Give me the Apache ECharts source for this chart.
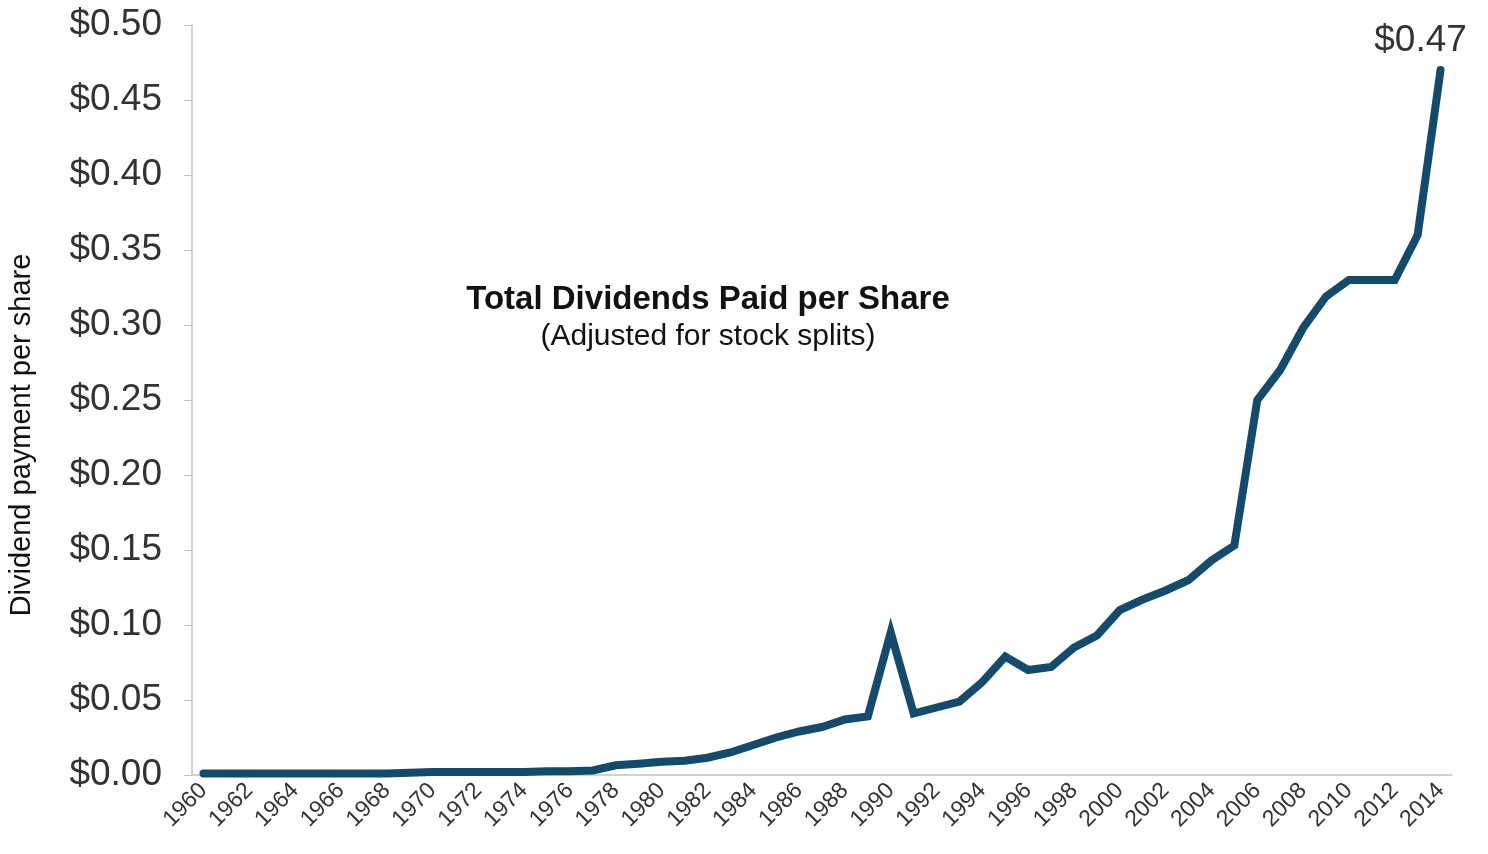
<!DOCTYPE html>
<html>
<head>
<meta charset="utf-8">
<script src="https://cdn.jsdelivr.net/npm/echarts@6/dist/echarts.min.js"></script>
<style>
  html, body { margin: 0; padding: 0; background: #fff; }
  #chart { width: 1488px; height: 854px; }
</style>
</head>
<body>
<div id="chart"></div>
<script>
const years = []
for (let y = 1960; y <= 2014; y++) years.push(String(y))

const dividends = [
  0.001, 0.001, 0.001, 0.001, 0.001, 0.001, 0.001, 0.001, 0.001, 0.0015,
  0.002, 0.002, 0.002, 0.002, 0.002, 0.0025, 0.0025, 0.003, 0.0065, 0.0075,
  0.0088, 0.0095, 0.0115, 0.015, 0.02, 0.025, 0.029, 0.032, 0.037, 0.039,
  0.095, 0.041, 0.045, 0.049, 0.062, 0.079, 0.07, 0.072, 0.085, 0.093,
  0.11, 0.117, 0.123, 0.13, 0.143, 0.153, 0.25, 0.27, 0.298, 0.319,
  0.33, 0.33, 0.33, 0.36, 0.47,
]

const lineColor = '#124B6C'
const font = '"Liberation Sans", Arial, sans-serif'

const chart = echarts.init(document.getElementById('chart'))

chart.setOption({
  animation: false,
  backgroundColor: '#fff',
  title: {
    text: 'Total Dividends Paid per Share',
    subtext: '(Adjusted for stock splits)',
    left: 703,
    top: 278,
    textAlign: 'center',
    itemGap: 6,
    textStyle: { fontFamily: font, fontSize: 33, fontWeight: 'bold', color: '#111' },
    subtextStyle: { fontFamily: font, fontSize: 30, color: '#111' },
  },
  graphic: [
    {
      type: 'text',
      x: 22,
      y: 435,
      rotation: Math.PI / 2,
      style: {
        text: 'Dividend payment per share',
        fontFamily: font,
        fontSize: 29,
        fill: '#111',
        align: 'center',
        verticalAlign: 'middle',
      },
    },
  ],
  grid: { left: 192, right: 36, top: 25, bottom: 79 },
  xAxis: {
    type: 'category',
    data: years,
    boundaryGap: true,
    axisLine: { lineStyle: { color: '#c4c4c4', width: 1.5 } },
    axisTick: { interval: 0, length: 7, lineStyle: { color: '#c4c4c4' } },
    axisLabel: {
      interval: 1,
      rotate: 45,
      margin: 12,
      fontFamily: font,
      fontSize: 23,
      color: '#333',
    },
    splitLine: { show: false },
  },
  yAxis: {
    type: 'value',
    min: 0,
    max: 0.5,
    interval: 0.05,
    axisLine: { show: true, lineStyle: { color: '#c4c4c4', width: 1.5 } },
    axisTick: { show: true, length: 8, lineStyle: { color: '#c4c4c4' } },
    axisLabel: {
      margin: 30,
      fontFamily: font,
      fontSize: 37,
      color: '#333',
      formatter: (v) => '$' + v.toFixed(2),
    },
    splitLine: { show: false },
  },
  series: [
    {
      type: 'line',
      data: dividends,
      symbol: 'circle',
      symbolSize: 0,
      showSymbol: true,
      lineStyle: { color: lineColor, width: 8, cap: 'round', join: 'miter' },
      itemStyle: { color: lineColor },
      label: {
        show: true,
        position: 'top',
        offset: [-20, -6],
        fontFamily: font,
        fontSize: 37,
        color: '#333',
        formatter: (p) => (p.dataIndex === dividends.length - 1 ? '$' + p.value.toFixed(2) : ''),
      },
    },
  ],
})
</script>
</body>
</html>
